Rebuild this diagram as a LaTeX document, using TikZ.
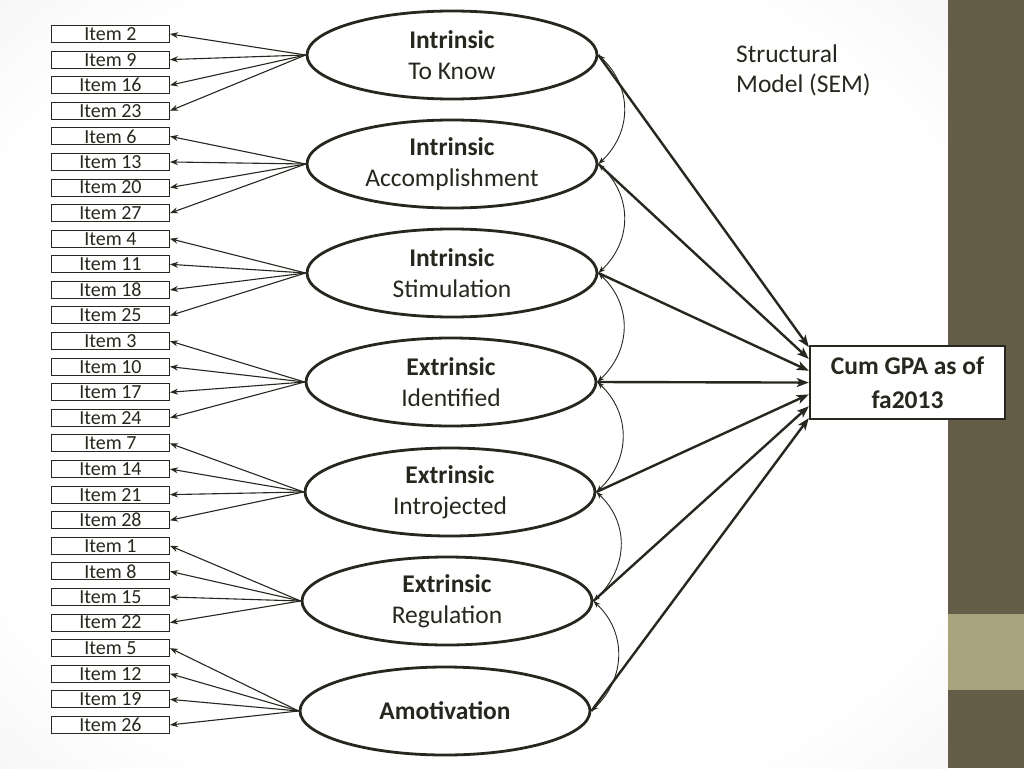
\documentclass[tikz,border=0pt]{standalone}
\usepackage{fontspec}
\setmainfont{Carlito}
\usetikzlibrary{shapes.geometric,arrows.meta,calc}
\definecolor{ink}{HTML}{28271F}
\definecolor{paneldark}{HTML}{655D47}
\definecolor{panellight}{HTML}{A9A47D}
\pgfdeclareradialshading{bgshade}{\pgfpoint{0bp}{0bp}}{color(0bp)=(white); color(28bp)=(white); color(42bp)=(black!6); color(50bp)=(black!14)}
\tikzset{
  itembox/.style={draw=ink, line width=1pt, fill=white, minimum width=118pt, minimum height=17pt, inner sep=0pt, font=\fontsize{20}{20}\selectfont, text=ink},
  factor/.style={ellipse, draw=ink, line width=2.8pt, fill=white, minimum width=290pt, minimum height=88pt, inner sep=0pt, align=center, font=\fontsize{25.5}{31}\selectfont, text=ink},
  itemarrow/.style={draw=ink, line width=1.1pt, -{Stealth[length=8pt,width=6pt]}},
  mainarrow/.style={draw=ink, line width=2.4pt, -{Stealth[length=12pt,width=9pt,inset=3pt]}},
  corr/.style={draw=ink, line width=0.9pt, {Stealth[length=7pt,width=5pt,inset=2pt]}-{Stealth[length=7pt,width=5pt,inset=2pt]}}
}
\begin{document}
\begin{tikzpicture}[x=1pt,y=-1pt]
\useasboundingbox (0,0) rectangle (1024,768);
% background
\path[shading=bgshade] (0,0) rectangle (948,768);
\fill[paneldark] (948,0) rectangle (1024,768);
\fill[panellight] (948,614) rectangle (1024,690);

% items
\foreach \lab [count=\k from 0] in {2,9,16,23,6,13,20,27,4,11,18,25,3,10,17,24,7,14,21,28,1,8,15,22,5,12,19,26}{
  \node[itembox] (i\lab) at (110.5, 34+25.59*\k) {Item \lab};
}

% factors
\node[factor] (e1) at (452,55)  {\textbf{Intrinsic}\\To Know};
\node[factor] (e2) at (452,164) {\textbf{Intrinsic}\\Accomplishment};
\node[factor] (e3) at (452,273) {\textbf{Intrinsic}\\Stimulation};
\node[factor] (e4) at (451,382) {\textbf{Extrinsic}\\Identified};
\node[factor] (e5) at (450,492) {\textbf{Extrinsic}\\Introjected};
\node[factor] (e6) at (447,601) {\textbf{Extrinsic}\\Regulation};
\node[factor] (e7) at (445,711) {\textbf{Amotivation}};

% GPA box
\node[draw=ink, line width=2.4pt, fill=white, minimum width=195pt, minimum height=73pt, inner sep=0pt, align=center, font=\fontsize{25.5}{34}\selectfont\bfseries, text=ink] (gpa) at (907.5,382.5) {Cum GPA as of\\fa2013};

% title text
\node[anchor=west, align=left, inner sep=0pt, font=\fontsize{25.5}{30}\selectfont, text=ink] (title) at (736,70) {Structural\\Model (SEM)};

% item arrows
\foreach \f/\a/\b/\c/\d in {e1/2/9/16/23, e2/6/13/20/27, e3/4/11/18/25, e4/3/10/17/24, e5/7/14/21/28, e6/1/8/15/22, e7/5/12/19/26}{
  \foreach \it in {\a,\b,\c,\d}{
    \draw[itemarrow] (\f.west) -- (i\it.east);
  }
}

% structural arrows
\foreach \f [count=\k from 0] in {e1,e2,e3,e4,e5,e6,e7}{
  \draw[mainarrow] (\f.east) -- ($(gpa.north west)!{0.03+0.157*\k}!(gpa.south west)$);
}

% correlations
\foreach \a/\b in {e1/e2,e2/e3,e3/e4,e4/e5,e5/e6,e6/e7}{
  \draw[corr] (\a.east) .. controls +(34,32) and +(34,-32) .. (\b.east);
}
\end{tikzpicture}
\end{document}
